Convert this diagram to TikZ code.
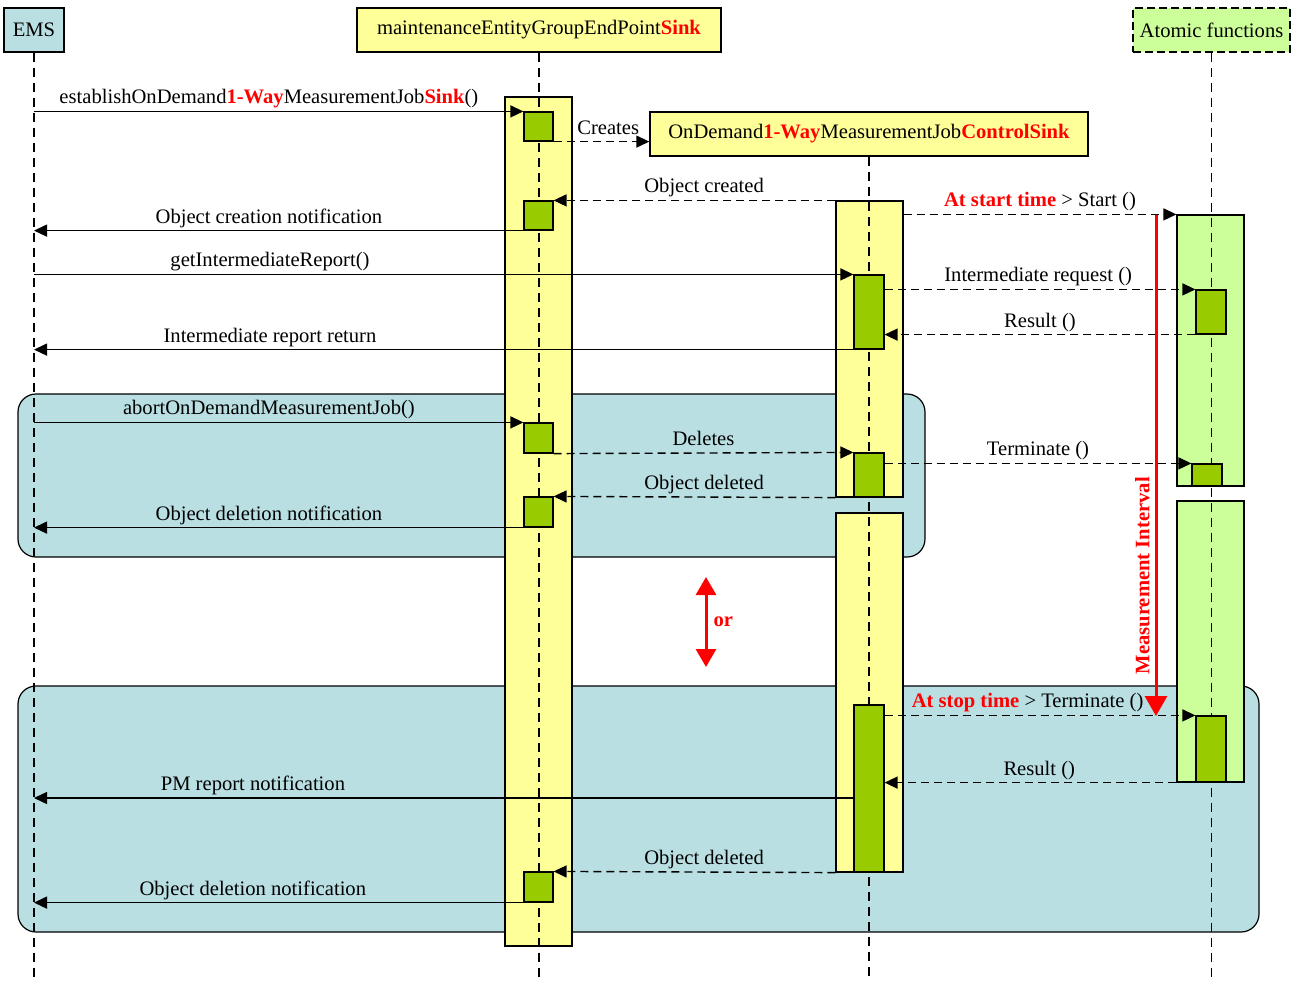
\documentclass[tikz,border=0pt]{standalone}
\usepackage{fontspec}
\setmainfont{Liberation Serif}
\usetikzlibrary{arrows.meta,positioning,fit}

\definecolor{lifeyellow}{HTML}{FFFF99}
\definecolor{actgreen}{HTML}{99CC00}
\definecolor{afgreen}{HTML}{CCFF99}
\definecolor{frameblue}{HTML}{B9DFE3}
\definecolor{hotred}{HTML}{FF0000}
\newcommand{\redbf}[1]{\textcolor{hotred}{\textbf{#1}}}

\tikzset{
  actor/.style={draw, line width=0.7pt, inner sep=0pt, minimum height=22pt},
  bar/.style={draw, line width=0.6pt, fill=lifeyellow, inner sep=0pt},
  afbar/.style={bar, fill=afgreen},
  act/.style={draw, line width=0.6pt, fill=actgreen, inner sep=0pt},
  frame/.style={draw, line width=0.6pt, fill=frameblue, inner sep=0pt, rounded corners=9pt},
  life/.style={line width=0.55pt, dash pattern=on 4.5pt off 3pt},
  call/.style={line width=0.7pt, -{Triangle[length=6.5pt,width=6pt]}},
  reply/.style={call, dash pattern=on 4pt off 2.5pt},
  lbl/.style={anchor=base, inner sep=0pt, yshift=3.8pt},
  redarrow/.style={hotred, line width=1.5pt, -{Triangle[length=10pt,width=11pt]}},
  redboth/.style={hotred, line width=1.5pt, {Triangle[length=9pt,width=10pt]}-{Triangle[length=9pt,width=10pt]}}
}

\begin{document}
\begin{tikzpicture}[x=0.5pt, y=-0.5pt, font=\fontsize{10.3}{12}\selectfont]
\useasboundingbox (0,0) rectangle (1303,981);
\coordinate (bottom) at (0,981);
% combined fragments
\node[frame, fit={(18,394) (925,557)}] (abortfrag) {};
\node[frame, fit={(18,686) (1259,932)}] (stopfrag) {};
% activation bars
\node[bar, fit={(505,97) (572,946)}] (megbar) {};
\node[bar, fit={(836,201) (903,497)}] (ctlbarA) {};
\node[bar, fit={(836,513) (903,872)}] (ctlbarB) {};
\node[afbar, fit={(1177,215) (1244,486)}] (afbarA) {};
\node[afbar, fit={(1177,501) (1244,782)}] (afbarB) {};
% objects
\node[actor, fill=frameblue, minimum width=30pt] (ems) at (34,30) {EMS};
\node[actor, fill=lifeyellow, minimum width=182pt] (meg) at (539,30) {maintenanceEntityGroupEndPoint\redbf{Sink}};
\node[actor, fill=lifeyellow, minimum width=219pt] (ctl) at (869,134) {OnDemand\redbf{1-Way}MeasurementJob\redbf{ControlSink}};
\node[actor, fill=afgreen, dash pattern=on 4pt off 2pt, minimum width=78.5pt] (af) at (1211.5,30) {Atomic functions};
% lifelines
\draw[life] (ems.south) -- (ems.south |- bottom);
\draw[life] (meg.south) -- (meg.south |- bottom);
\draw[life] (ctl.south) -- (ctl.south |- bottom);
\draw[life] (af.south) -- (af.south |- bottom);
% executions
\node[act, fit={(524,112) (553,141)}] (megA) {};
\node[act, fit={(524,201) (553,230)}] (megB) {};
\node[act, fit={(524,423) (553,453)}] (megC) {};
\node[act, fit={(524,497) (553,527)}] (megD) {};
\node[act, fit={(524,872) (553,902)}] (megE) {};
\node[act, fit={(854,275) (884,349)}] (ctlA) {};
\node[act, fit={(854,453) (884,497)}] (ctlB) {};
\node[act, fit={(854,705) (884,872)}] (ctlC) {};
\node[act, fit={(1196,290) (1226,334)}] (afA) {};
\node[act, fit={(1192,464) (1222,486)}] (afB) {};
\node[act, fit={(1196,716) (1226,782)}] (afC) {};
\coordinate (pmsrc) at (854,798);
% messages
\draw[call] (ems |- megA.north west) -- node[lbl, pos=0.48] {establishOnDemand\redbf{1-Way}MeasurementJob\redbf{Sink}()} (megA.north west);
\draw[reply] (megA.south east) -- node[lbl, pos=0.57] {Creates} (ctl.west |- megA.south east);
\draw[reply] (ctlbarA.north west) -- node[lbl, pos=0.466] {Object created} (megB.north east);
\draw[call] (megB.south west) -- node[lbl, pos=0.52] {Object creation notification} (ems |- megB.south west);
\draw[reply] (ctlbarA.east |- afbarA.north west) -- node[lbl, pos=0.5] {\redbf{At start time} > Start ()} (afbarA.north west);
\draw[call] (ems |- ctlA.north west) -- node[lbl, pos=0.288] {getIntermediateReport()} (ctlA.north west);
\draw[reply] (ctlA.east |- afA.north west) -- node[lbl, pos=0.494] {Intermediate request ()} (afA.north west);
\draw[reply] (afA.south west) -- node[lbl, pos=0.5] {Result ()} (ctlA.east |- afA.south west);
\draw[call] (ctlA.south west) -- node[lbl, pos=0.712] {Intermediate report return} (ems |- ctlA.south west);
\draw[call] (ems |- megC.north west) -- node[lbl, pos=0.48] {abortOnDemandMeasurementJob()} (megC.north west);
\draw[reply] (megC.south east) -- node[lbl, pos=0.5] {Deletes} (ctlB.north west);
\draw[reply] (ctlB.east |- afB.north west) -- node[lbl, pos=0.5] {Terminate ()} (afB.north west);
\draw[reply] (ctlbarA.south west) -- node[lbl, pos=0.466] {Object deleted} (megD.north east);
\draw[call] (megD.south west) -- node[lbl, pos=0.52] {Object deletion notification} (ems |- megD.south west);
\draw[reply] (ctlC.east |- afC.north west) -- node[lbl, pos=0.46] {\redbf{At stop time} > Terminate ()} (afC.north west);
\draw[reply] (afbarB.south west) -- node[lbl, pos=0.47] {Result ()} (ctlC.east |- afbarB.south west);
\draw[call] (pmsrc) -- node[lbl, pos=0.733] {PM report notification} (ems |- pmsrc);
\draw[reply] (ctlbarB.south west) -- node[lbl, pos=0.466] {Object deleted} (megE.north east);
\draw[call] (megE.south west) -- node[lbl, pos=0.553] {Object deletion notification} (ems |- megE.south west);
% measurement interval and alternative
\coordinate (miStart) at (1156,215);
\coordinate (miEnd) at (1156,716);
\draw[redarrow] (miStart) -- node[pos=0.72, rotate=90, anchor=south, inner sep=2.5pt, text=hotred, font=\fontsize{10.3}{12}\selectfont\bfseries] {Measurement Interval} (miEnd);
\coordinate (orTop) at (706,577);
\coordinate (orBot) at (706,667);
\draw[redboth] (orTop) -- node[right=3pt, inner sep=0pt, text=hotred, font=\fontsize{10.3}{12}\selectfont\bfseries] {or} (orBot);
\end{tikzpicture}
\end{document}
